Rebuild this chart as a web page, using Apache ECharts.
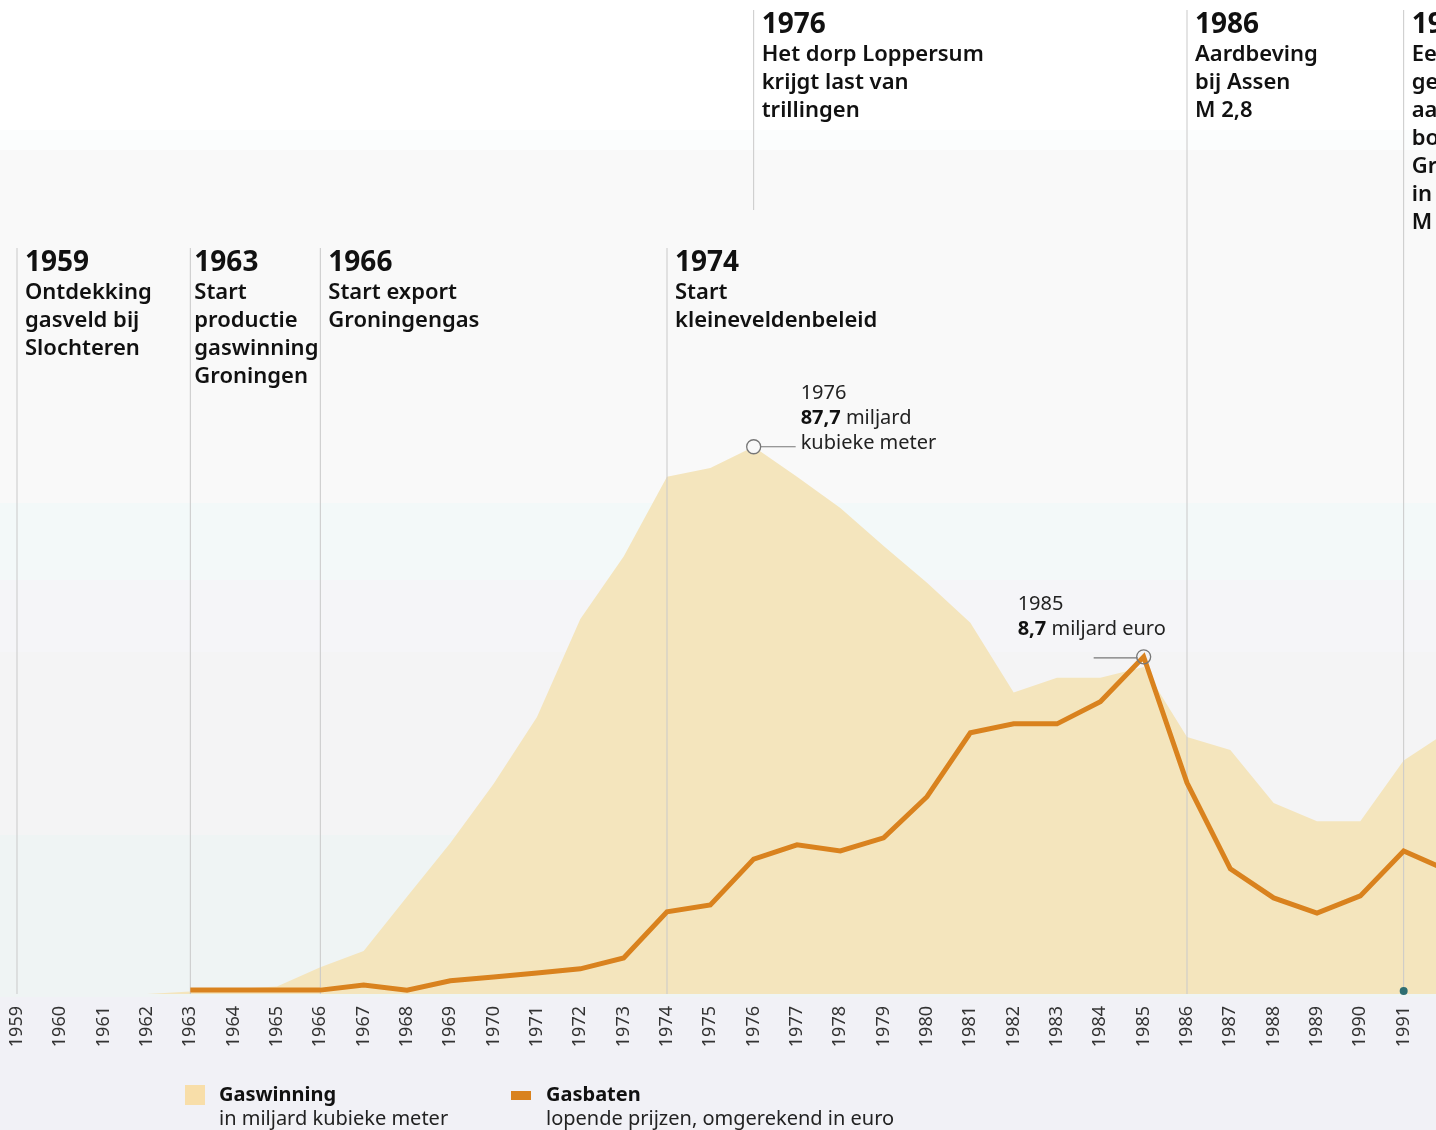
<!DOCTYPE html>
<html>
<head>
<meta charset="utf-8">
<script src="https://cdn.jsdelivr.net/npm/echarts@6/dist/echarts.min.js"></script>
<style>
html,body{margin:0;padding:0;background:#fff;}
#c{width:1436px;height:1130px;}
</style>
</head>
<body>
<div id="c"></div>
<script>
// ---------- DATA ----------
const years = ['1959','1960','1961','1962','1963','1964','1965','1966','1967','1968','1969','1970','1971','1972','1973','1974','1975','1976','1977','1978','1979','1980','1981','1982','1983','1984','1985','1986','1987','1988','1989','1990','1991','1992'];
// Gaswinning, miljard kubieke meter
const gaswinning = [0,0,0,0,0.4,0.8,1.2,4.3,6.9,15.6,24.2,33.7,44.4,60.1,70.1,82.9,84.3,87.7,82.9,77.9,71.8,65.9,59.5,48.3,50.7,50.7,52.4,41.2,39.1,30.6,27.7,27.7,37.4,42.0];
// Gasbaten, miljard euro (lopende prijzen)
const gasbaten = [null,null,null,null,0.1,0.1,0.1,0.1,0.23,0.1,0.34,0.44,0.54,0.65,0.93,2.12,2.30,3.48,3.85,3.69,4.03,5.09,6.74,6.97,6.97,7.54,8.7,5.45,3.23,2.48,2.09,2.53,3.69,3.2];

const eventYears = ['1959','1963','1966','1974','1976','1986','1991'];
const eventTexts = [
  ['Ontdekking','gasveld bij','Slochteren'],
  ['Start','productie','gaswinning','Groningen'],
  ['Start export','Groningengas'],
  ['Start','kleineveldenbeleid'],
  ['Het dorp Loppersum','krijgt last van','trillingen'],
  ['Aardbeving','bij Assen','M 2,8'],
  ['Eerste','geregistreerde','aardbeving','boven','Groningen','in Middelstum','M 2,4']
];
const peakGas = {year:'1976', value:87.7, unit:'miljard', unit2:'kubieke meter'};
const peakBaten = {year:'1985', value:8.7, unit:'miljard euro'};
const legendNames = ['Gaswinning','Gasbaten'];
const legendSubs = ['in miljard kubieke meter','lopende prijzen, omgerekend in euro'];

// ---------- CHART ----------
const FONT = '"Noto Sans", sans-serif';
const chart = echarts.init(document.getElementById('c'));
const H = 1130;
function st(y){return y/H;}
const bg = {
  type:'linear', x:0, y:0, x2:0, y2:1,
  colorStops:[
    {offset:0, color:'#ffffff'},{offset:st(130), color:'#ffffff'},
    {offset:st(130), color:'#fbfdfd'},{offset:st(150), color:'#fbfdfd'},
    {offset:st(150), color:'#f9f9f9'},{offset:st(503), color:'#f9f9f9'},
    {offset:st(503), color:'#f3f9f9'},{offset:st(580), color:'#f3f9f9'},
    {offset:st(580), color:'#f5f5f8'},{offset:st(652), color:'#f5f5f8'},
    {offset:st(652), color:'#f4f4f5'},{offset:st(835), color:'#f4f4f5'},
    {offset:st(835), color:'#eff4f4'},{offset:st(997), color:'#eff4f4'},
    {offset:st(997), color:'#f1f1f6'},{offset:1, color:'#f1f1f6'}
  ]
};

chart.setOption({
  animation:false,
  backgroundColor:bg,
  grid:{left:17, top:370, width:1430, height:624, containLabel:false, outerBoundsMode:'none'},
  xAxis:{
    type:'category', data:years, boundaryGap:false,
    axisLine:{show:false}, axisTick:{show:false}, splitLine:{show:false},
    axisLabel:{rotate:90, interval:0, fontSize:18, color:'#333', fontFamily:FONT, margin:12}
  },
  yAxis:[
    {type:'value', min:0, max:100, show:false, splitLine:{show:false}},
    {type:'value', min:0, max:16.1, show:false, splitLine:{show:false}}
  ],
  series:[
    {name:legendNames[0], type:'line', data:gaswinning, yAxisIndex:0, symbol:'none', z:1,
     lineStyle:{width:0, color:'#f4e5bd'}, areaStyle:{color:'#f4e5bd', opacity:1}},
    {name:legendNames[1], type:'line', data:gasbaten, yAxisIndex:1, symbol:'none', z:5,
     lineStyle:{width:5, color:'#d9821e', join:'miter'}}
  ]
});

// ---------- ANNOTATIONS ----------
const g = [];
const baseY = chart.convertToPixel({yAxisIndex:0}, 0);
eventYears.forEach((yr, i) => {
  const x = chart.convertToPixel({xAxisIndex:0}, yr);
  const upper = (yr === '1976' || yr === '1986' || yr === '1991');
  const top = upper ? 10 : 248;
  const bottom = (yr === '1976') ? 210 : baseY;
  const dx = (yr === '1963') ? 4 : 8;
  g.push({type:'line', z:3, shape:{x1:x, y1:top, x2:x, y2:bottom}, style:{stroke:'#c9c9c9', lineWidth:1}});
  g.push({type:'text', z:4, x:x+dx, y:top+1, style:{text:yr, font:'bold 28px ' + FONT, fill:'#111', textVerticalAlign:'top'}});
  g.push({type:'text', z:4, x:x+dx, y:top+31, style:{text:eventTexts[i].join('\n'), font:'600 22px ' + FONT, fill:'#111', lineHeight:28, textVerticalAlign:'top'}});
});

// peak gaswinning
(function(){
  const p = chart.convertToPixel({xAxisIndex:0, yAxisIndex:0}, [peakGas.year, peakGas.value]);
  g.push({type:'line', z:6, shape:{x1:p[0]+7, y1:p[1], x2:p[0]+42, y2:p[1]}, style:{stroke:'#777', lineWidth:1.2}});
  g.push({type:'circle', z:6, shape:{cx:p[0], cy:p[1], r:7}, style:{fill:'#f9f9f9', stroke:'#777', lineWidth:1.3}});
  g.push({type:'text', z:6, x:p[0]+47, y:p[1]-66, style:{
    text: peakGas.year + '\n{b|' + String(peakGas.value).replace('.', ',') + '} ' + peakGas.unit + '\n' + peakGas.unit2,
    font:'20px ' + FONT, fill:'#222', lineHeight:25, textVerticalAlign:'top',
    rich:{b:{fontWeight:'bold', fontSize:20, fontFamily:FONT, lineHeight:25, fill:'#111'}}
  }});
})();
// peak gasbaten
(function(){
  const p = chart.convertToPixel({xAxisIndex:0, yAxisIndex:1}, [peakBaten.year, peakBaten.value]);
  g.push({type:'line', z:6, shape:{x1:p[0]-50, y1:p[1]+1, x2:p[0]-6, y2:p[1]+1}, style:{stroke:'#777', lineWidth:1.2}});
  g.push({type:'circle', z:6, shape:{cx:p[0], cy:p[1], r:7}, style:{fill:'none', stroke:'#777', lineWidth:1.3}});
  g.push({type:'text', z:6, x:p[0]-126, y:p[1]-65, style:{
    text: peakBaten.year + '\n{b|' + String(peakBaten.value).replace('.', ',') + '} ' + peakBaten.unit,
    font:'20px ' + FONT, fill:'#222', lineHeight:25, textVerticalAlign:'top',
    rich:{b:{fontWeight:'bold', fontSize:20, fontFamily:FONT, lineHeight:25, fill:'#111'}}
  }});
})();
// 1991 event dot on baseline
(function(){
  const x = chart.convertToPixel({xAxisIndex:0}, '1991');
  g.push({type:'circle', z:6, shape:{cx:x, cy:baseY-3, r:4}, style:{fill:'#2e6e72'}});
})();

// legend
g.push({type:'rect', z:6, shape:{x:185, y:1085, width:20, height:20}, style:{fill:'#f8dea9'}});
g.push({type:'text', z:6, x:219, y:1095, style:{text:legendNames[0], font:'bold 20px ' + FONT, fill:'#111', textVerticalAlign:'middle'}});
g.push({type:'text', z:6, x:219, y:1119, style:{text:legendSubs[0], font:'20px ' + FONT, fill:'#222', textVerticalAlign:'middle'}});
g.push({type:'rect', z:6, shape:{x:511, y:1091, width:20, height:9}, style:{fill:'#d9821e'}});
g.push({type:'text', z:6, x:546, y:1095, style:{text:legendNames[1], font:'bold 20px ' + FONT, fill:'#111', textVerticalAlign:'middle'}});
g.push({type:'text', z:6, x:546, y:1119, style:{text:legendSubs[1], font:'20px ' + FONT, fill:'#222', textVerticalAlign:'middle'}});

chart.setOption({graphic:{elements:g}});
</script>
</body>
</html>
